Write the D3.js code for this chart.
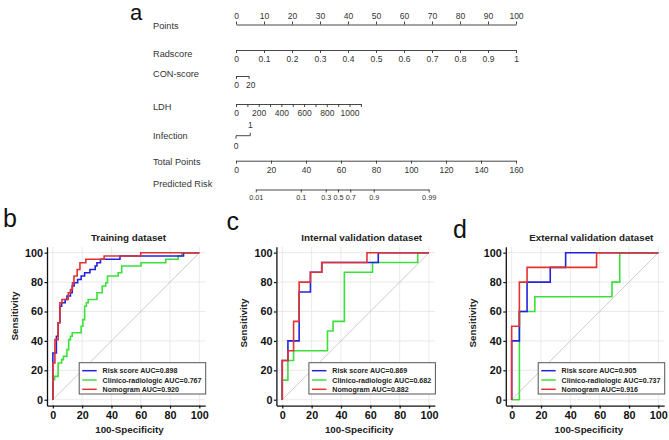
<!DOCTYPE html>
<html><head><meta charset="utf-8">
<script src="https://cdn.jsdelivr.net/npm/d3@7"></script>
<style>body{margin:0;background:#fff}svg{display:block}</style>
</head><body>
<svg id="chart" width="669" height="440"></svg>
<script>
// ---------------- DATA ----------------
// Nomogram
const pointsTicks = d3.range(0, 101, 10);
const pointsMinor = d3.range(0, 101, 2);
const radscoreTicks = d3.range(0, 11).map(d => d / 10);
const radscoreMaxPoints = 100;
const conTicks = [0, 20];
const conMaxPoints = 4.5;
const ldhTicks = d3.range(0, 1101, 100);
const ldhLabelled = [0, 200, 400, 600, 800, 1000];
const ldhMaxPoints = 44.6;
const infectionTicks = [0, 1];
const infectionMaxPoints = 5.1;
const totalTicks = d3.range(0, 161, 20);
const totalMinor = d3.range(0, 161, 5);
const riskLabels = ["0.01", "0.1", "0.3", "0.5", "0.7", "0.9", "0.99"];
const riskTotalPoints = [11.3, 37.0, 51.3, 58.3, 65.3, 78.7, 110.1];
const nomoLabels = ["Points", "Radscore", "CON-score", "LDH", "Infection", "Total Points", "Predicted Risk"];

// ROC curves (100-Specificity, Sensitivity) step vertices
const seriesNames = ["Clinico-radiologic", "Risk score", "Nomogram"];
const trainRiskFpr = [0,0,2.4,3.6,4.8,6,8.4,9.6,12,13.2,14.5,16.9,19.3,21.7,25.3,28.9,30.1,32.5,45.8,89.2,100];
const trainRiskTpr = [0,31.8,43.2,52.3,63.6,65.9,68.2,70.5,72.7,77.3,79.5,81.8,84.1,86.4,88.6,90.9,93.2,95.5,97.7,100,100];
const trainClinFpr = [0,0,1.2,3.6,6,7.2,9.6,10.8,12,13.2,19.3,20.5,21.7,22.9,24.1,30.1,33.7,36.1,37.3,44.6,47,60.2,77.1,85.5,88,100];
const trainClinTpr = [0,13.6,15.9,25,27.3,29.5,34.1,40.9,43.2,45.5,50,54.5,63.6,65.9,68.2,72.7,77.3,79.5,84.1,86.4,90.9,93.2,95.5,97.7,100,100];
const trainNomoFpr = [0,0,1.4,3.6,4.8,6.2,10.5,12,13.4,14.4,16.6,18.5,22.5,35,60,100];
const trainNomoTpr = [0,25,40.9,52.3,65.9,68.2,72.7,75,79.5,84.1,88.6,93.2,95.5,97.7,100,100];

const intRiskFpr = [0,0,3.85,11.5,19.2,26.9,65.4,100];
const intRiskTpr = [0,26.7,40,73.3,86.7,93.3,100,100];
const intClinFpr = [0,0,3.85,7.7,30.8,34.6,42.3,61.5,92.3,100];
const intClinTpr = [0,13.3,26.7,33.3,46.7,53.3,86.7,93.3,100,100];
const intNomoFpr = [0,0,3.85,7.7,11.5,19.2,26.9,57.7,100];
const intNomoTpr = [0,26.7,33.3,53.3,80,86.7,93.3,100,100];

const extRiskFpr = [0,0,5.26,10.5,26.3,36.8,100];
const extRiskTpr = [0,40,60,80,90,100,100];
const extClinFpr = [0,5.26,15.8,68.4,73.7,100];
const extClinTpr = [0,60,70,80,100,100];
const extNomoFpr = [0,0,5.26,10.5,57.9,100];
const extNomoTpr = [0,50,80,90,100,100];

const legendLabels = [
  ["Risk score AUC=0.898", "Clinico-radiologic AUC=0.767", "Nomogram AUC=0.920"],
  ["Risk score AUC=0.869", "Clinico-radiologic AUC=0.682", "Nomogram AUC=0.882"],
  ["Risk score AUC=0.905", "Clinico-radiologic AUC=0.737", "Nomogram AUC=0.916"]
];
const panelTitles = ["Training dataset", "Internal validation dataset", "External validation dataset"];
const rocTicks = [0, 20, 40, 60, 80, 100];

// ---------------- DRAW ----------------
const FONT = '"Liberation Sans", Arial, Helvetica, sans-serif';
const svg = d3.select("#chart");
const NC = "#333";

// Nomogram
svg.append("text").attr("x", 130).attr("y", 20).attr("font-family", FONT)
  .attr("font-size", 22).attr("fill", "#111").text("a");

const labelY = [29, 57, 77, 110, 138.5, 165, 187];
nomoLabels.forEach((t, i) => {
  svg.append("text").attr("x", 153).attr("y", labelY[i]).attr("font-family", FONT)
    .attr("font-size", 9.2).attr("fill", NC).text(t);
});

const pointsScale = d3.scaleLinear().domain([0, 100]).range([236, 516]);
const totalScale = d3.scaleLinear().domain([0, 160]).range([236, 516]);

function styleAxis(g, fs) {
  g.attr("font-family", FONT).attr("font-size", fs);
  g.selectAll("path").attr("stroke", NC).attr("stroke-width", 0.9);
  g.selectAll("line").attr("stroke", NC).attr("stroke-width", 0.9);
  g.selectAll("text").attr("fill", NC);
}

// Points (top axis)
let g = svg.append("g").attr("transform", "translate(0,24.5)");
g.call(d3.axisTop(pointsScale).tickValues(pointsMinor).tickSize(2).tickSizeOuter(0).tickFormat(""));
g.call(d3.axisTop(pointsScale).tickValues(pointsTicks).tickSize(3).tickSizeOuter(0).tickPadding(3));
styleAxis(g, 8.5);

// Radscore
const radScale = d3.scaleLinear().domain([0, 1]).range([pointsScale(0), pointsScale(radscoreMaxPoints)]);
g = svg.append("g").attr("transform", "translate(0,50)");
g.call(d3.axisBottom(radScale).tickValues(radscoreTicks).tickSize(3).tickSizeOuter(0).tickPadding(3).tickFormat(d3.format("~g")));
styleAxis(g, 8.5);

// CON-score
const conScale = d3.scaleLinear().domain([0, 20]).range([pointsScale(0), pointsScale(conMaxPoints)]);
g = svg.append("g").attr("transform", "translate(0,76)");
g.call(d3.axisBottom(conScale).tickValues(conTicks).tickSize(3).tickSizeOuter(0).tickPadding(3));
styleAxis(g, 8.5);
g.selectAll(".tick text").attr("text-anchor", (d, i) => i === 0 ? "middle" : "start").attr("dx", (d, i) => i === 0 ? 0 : -3);

// LDH
const ldhScale = d3.scaleLinear().domain([0, 1100]).range([pointsScale(0), pointsScale(ldhMaxPoints)]);
g = svg.append("g").attr("transform", "translate(0,104)");
g.call(d3.axisBottom(ldhScale).tickValues(ldhTicks).tickSize(3).tickSizeOuter(0).tickPadding(3)
  .tickFormat(d => ldhLabelled.includes(d) ? d : ""));
styleAxis(g, 8.5);

// Infection
const infScale = d3.scaleLinear().domain([0, 1]).range([pointsScale(0), pointsScale(infectionMaxPoints)]);
g = svg.append("g").attr("transform", "translate(0,135.7)");
g.append("line").attr("x1", infScale(0)).attr("x2", infScale(1)).attr("y1", 0).attr("y2", 0)
  .attr("stroke", NC).attr("stroke-width", 0.9);
g.append("line").attr("x1", infScale(0)).attr("x2", infScale(0)).attr("y1", 0).attr("y2", 3)
  .attr("stroke", NC).attr("stroke-width", 0.9);
g.append("line").attr("x1", infScale(1)).attr("x2", infScale(1)).attr("y1", 0).attr("y2", -3)
  .attr("stroke", NC).attr("stroke-width", 0.9);
g.append("text").attr("x", infScale(0)).attr("y", 13.5).attr("text-anchor", "middle")
  .attr("font-family", FONT).attr("font-size", 8.5).attr("fill", NC).text(infectionTicks[0]);
g.append("text").attr("x", infScale(1)).attr("y", -8).attr("text-anchor", "middle")
  .attr("font-family", FONT).attr("font-size", 8.5).attr("fill", NC).text(infectionTicks[1]);

// Total points
g = svg.append("g").attr("transform", "translate(0,160.7)");
g.call(d3.axisBottom(totalScale).tickValues(totalMinor).tickSize(2).tickSizeOuter(0).tickFormat(""));
g.call(d3.axisBottom(totalScale).tickValues(totalTicks).tickSize(3).tickSizeOuter(0).tickPadding(3));
styleAxis(g, 8.5);

// Predicted risk
const riskScale = d3.scaleLinear()
  .domain([riskTotalPoints[0], riskTotalPoints[riskTotalPoints.length - 1]])
  .range([totalScale(riskTotalPoints[0]), totalScale(riskTotalPoints[riskTotalPoints.length - 1])]);
g = svg.append("g").attr("transform", "translate(0,189.5)");
g.call(d3.axisBottom(riskScale).tickValues(riskTotalPoints).tickSize(3).tickSizeOuter(0).tickPadding(2.5)
  .tickFormat((d, i) => riskLabels[i]));
styleAxis(g, 7.3);

// ROC panels
const panels = [
  { letter: "b", lx: 3, ly: 227, tx: 128.5, xr: [47, 205.2], sx: 18, sy: 316, xtx: 129.5,
    fpr: [trainClinFpr, trainRiskFpr, trainNomoFpr], tpr: [trainClinTpr, trainRiskTpr, trainNomoTpr] },
  { letter: "c", lx: 226.5, ly: 230, tx: 361.7, xr: [276.4, 434.9], sx: 247, sy: 323, xtx: 359.2,
    fpr: [intClinFpr, intRiskFpr, intNomoFpr], tpr: [intClinTpr, intRiskTpr, intNomoTpr] },
  { letter: "d", lx: 453, ly: 238, tx: 591.3, xr: [505.8, 664.2], sx: 476, sy: 323, xtx: 588.8,
    fpr: [extClinFpr, extRiskFpr, extNomoFpr], tpr: [extClinTpr, extRiskTpr, extNomoTpr] }
];
const colors = ["#3be03b", "#2323dd", "#e23232"];   // clinico, risk, nomogram
const yRange = [405.6, 246.8];

panels.forEach((p, pi) => {
  const x = d3.scaleLinear().domain([-4, 104]).range(p.xr);
  const y = d3.scaleLinear().domain([-4, 104]).range(yRange);
  const pg = svg.append("g");

  pg.append("text").attr("x", p.lx).attr("y", p.ly).attr("font-family", FONT)
    .attr("font-size", 25).attr("fill", "#111").text(p.letter);
  pg.append("text").attr("x", p.tx).attr("y", 241.3).attr("text-anchor", "middle")
    .attr("font-family", FONT).attr("font-size", 9.8).attr("font-weight", "bold").attr("fill", "#222")
    .text(panelTitles[pi]);

  // grid
  pg.append("g").selectAll("line.gx").data(rocTicks).join("line")
    .attr("x1", d => x(d)).attr("x2", d => x(d)).attr("y1", yRange[0]).attr("y2", yRange[1])
    .attr("stroke", "#e4e4e4").attr("stroke-width", 0.8);
  pg.append("g").selectAll("line.gy").data(rocTicks).join("line")
    .attr("x1", p.xr[0]).attr("x2", p.xr[1]).attr("y1", d => y(d)).attr("y2", d => y(d))
    .attr("stroke", "#e4e4e4").attr("stroke-width", 0.8);

  // diagonal
  pg.append("line").attr("x1", x(0)).attr("y1", y(0)).attr("x2", x(100)).attr("y2", y(100))
    .attr("stroke", "#cdb9b9").attr("stroke-width", 0.8);

  // axes
  const ax = pg.append("g").attr("transform", `translate(0,${yRange[0]})`)
    .call(d3.axisBottom(x).tickValues(rocTicks).tickSize(3).tickSizeOuter(0).tickPadding(3));
  const ay = pg.append("g").attr("transform", `translate(${p.xr[0]},0)`)
    .call(d3.axisLeft(y).tickValues(rocTicks).tickSize(2.5).tickSizeOuter(0).tickPadding(1.5));
  [ax, ay].forEach(a => {
    a.attr("font-family", FONT).attr("font-size", 10.8).attr("font-weight", "bold");
    a.selectAll("path").attr("stroke", "#111").attr("stroke-width", 1.3);
    a.selectAll("line").attr("stroke", "#111").attr("stroke-width", 1.2);
    a.selectAll("text").attr("fill", "#111");
  });

  pg.append("text").attr("x", p.xtx).attr("y", 433.3).attr("text-anchor", "middle")
    .attr("font-family", FONT).attr("font-size", 9.8).attr("font-weight", "bold").attr("fill", "#222")
    .text("100-Specificity");
  pg.append("text").attr("transform", `translate(${p.sx},${p.sy}) rotate(-90)`).attr("text-anchor", "middle")
    .attr("font-family", FONT).attr("font-size", 9.8).attr("font-weight", "bold").attr("fill", "#222")
    .text("Sensitivity");

  // curves
  const line = d3.line().x(d => x(d[0])).y(d => y(d[1])).curve(d3.curveStepAfter);
  p.fpr.forEach((fp, si) => {
    const pts = fp.map((v, i) => [v, p.tpr[si][i]]);
    pg.append("path").datum(pts).attr("d", line).attr("fill", "none")
      .attr("stroke", colors[si]).attr("stroke-width", 1.6);
  });

  // legend
  const lw = 126.5, lh = 31.3;
  const lxR = p.xr[1] + 0.5;
  const lg = pg.append("g").attr("transform", `translate(${lxR - lw},362.7)`);
  lg.append("rect").attr("width", lw).attr("height", lh).attr("fill", "#fff")
    .attr("stroke", "#555").attr("stroke-width", 1);
  const order = [1, 0, 2];
  order.forEach((si, r) => {
    const yy = 8 + r * 9.3;
    lg.append("line").attr("x1", 3).attr("x2", 17.5).attr("y1", yy).attr("y2", yy)
      .attr("stroke", colors[si]).attr("stroke-width", 1.5);
    lg.append("text").attr("x", 23.4).attr("y", yy + 2.6).attr("font-family", FONT)
      .attr("font-size", 7.1).attr("font-weight", "bold").attr("fill", "#222").text(legendLabels[pi][r]);
  });
});
</script>
</body></html>
